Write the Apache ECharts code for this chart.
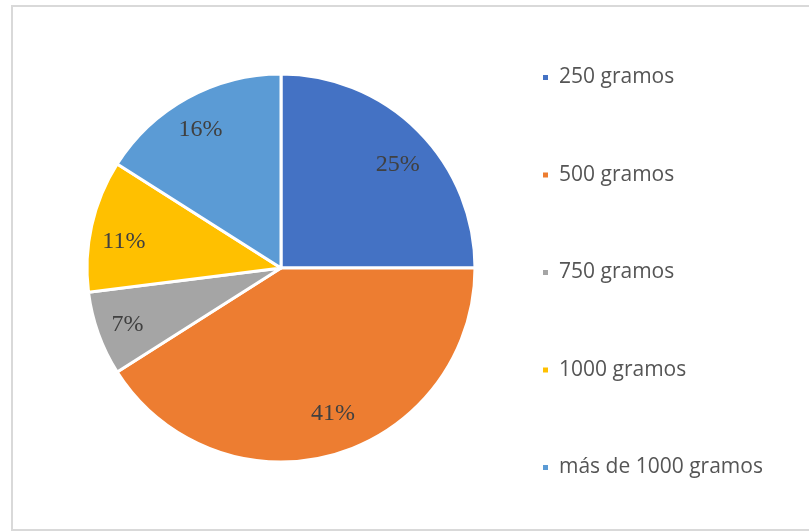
<!DOCTYPE html>
<html>
<head>
<meta charset="utf-8">
<script src="https://cdn.jsdelivr.net/npm/echarts@6/dist/echarts.min.js"></script>
<style>
  html, body { margin: 0; padding: 0; background: #fff; }
  #chart { width: 809px; height: 531px; }
</style>
</head>
<body>
<div id="chart"></div>
<script>
// Reparto por tamaño de envase
const categories = ['250 gramos', '500 gramos', '750 gramos', '1000 gramos', 'más de 1000 gramos'];
const shares = [25, 41, 7, 11, 16];
const colors = ['#4472C4', '#ED7D31', '#A5A5A5', '#FFC000', '#5B9BD5'];

// pequeños ajustes de cada etiqueta de porcentaje (px)
const labelShiftY = [11, -9, 2, 9, 3];
const labelShiftX = [3, 7, -2, 0, -3];

const pieData = categories.map((name, i) => ({ name, value: shares[i] }));

const chart = echarts.init(document.getElementById('chart'), null, { renderer: 'canvas' });

chart.setOption({
  animation: false,
  color: colors,
  graphic: [{
    type: 'rect',
    shape: { x: 12, y: 6, width: 820, height: 524 },
    style: { fill: 'none', stroke: '#D9D9D9', lineWidth: 2 },
    silent: true,
    z: -1
  }],
  legend: {
    orient: 'vertical',
    left: 536,
    top: 62,
    icon: 'rect',
    itemWidth: 7,
    itemHeight: 7,
    itemGap: 76.5,
    textStyle: {
      fontFamily: 'Open Sans',
      fontSize: 21,
      color: '#555555',
      padding: [0, 0, 0, 5]
    },
    data: categories
  },
  series: [
    {
      name: 'sectores',
      type: 'pie',
      center: [281, 268],
      radius: [0, 194],
      startAngle: 90,
      clockwise: true,
      itemStyle: { borderColor: '#ffffff', borderWidth: 3 },
      label: { show: false },
      labelLine: { show: false },
      emphasis: { disabled: true },
      data: pieData
    },
    {
      // anillo transparente que solo coloca las etiquetas de porcentaje
      name: 'etiquetas',
      type: 'pie',
      center: [281, 268],
      radius: [122, 194],
      startAngle: 90,
      clockwise: true,
      silent: true,
      itemStyle: { color: 'rgba(0,0,0,0)' },
      label: {
        show: true,
        position: 'inside',
        formatter: p => p.value + '%',
        fontFamily: 'Liberation Serif',
        fontSize: 24,
        color: '#404040'
      },
      labelLayout: p => ({ dx: labelShiftX[p.dataIndex], dy: labelShiftY[p.dataIndex] }),
      labelLine: { show: false },
      emphasis: { disabled: true },
      data: pieData
    }
  ]
});
</script>
</body>
</html>
